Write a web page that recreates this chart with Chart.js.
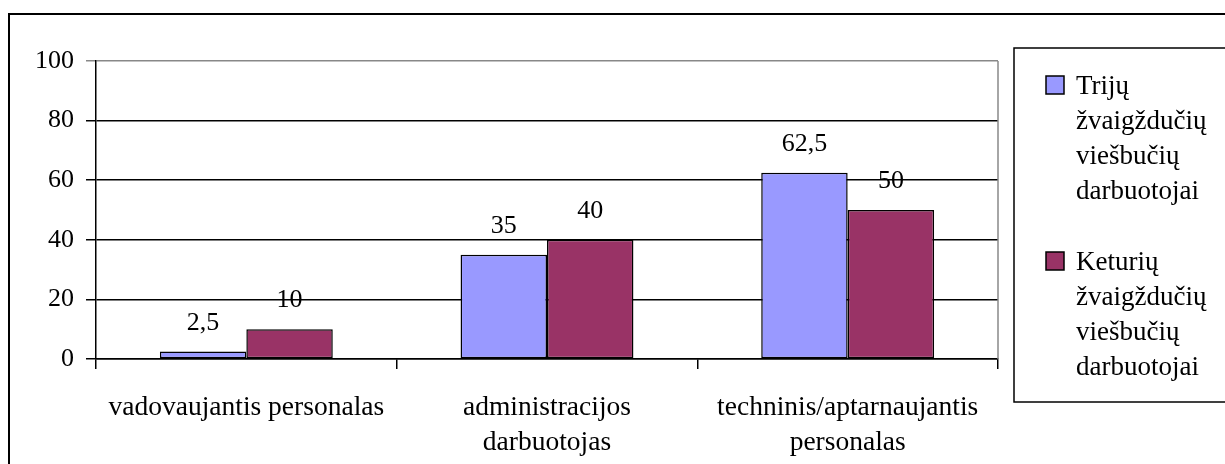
<!DOCTYPE html>
<html>
<head>
<meta charset="utf-8">
<script src="https://cdn.jsdelivr.net/npm/chart.js@4.4.1/dist/chart.umd.min.js"></script>
<style>
  html, body { margin: 0; padding: 0; background: #fff; }
  #wrap { position: relative; width: 1225px; height: 464px; }
</style>
</head>
<body>
<div id="wrap"><canvas id="staffChart" width="1225" height="464"></canvas></div>
<script>
const categories = [
  ['vadovaujantis personalas'],
  ['administracijos', 'darbuotojas'],
  ['techninis/aptarnaujantis', 'personalas']
];
const seriesNames = [
  'Trijų žvaigždučių viešbučių darbuotojai',
  'Keturių žvaigždučių viešbučių darbuotojai'
];
const threeStar = [2.5, 35, 62.5];
const fourStar = [10, 40, 50];
const yTicks = [0, 20, 40, 60, 80, 100];

const colors = ['#9999FF', '#993366'];
const FONT = '"Liberation Serif", "Times New Roman", serif';

// frame around the whole chart + grey right edge of the plot
const framePlugin = {
  id: 'frame',
  beforeDraw(chart) {
    const ctx = chart.ctx;
    ctx.save();
    ctx.strokeStyle = '#000';
    ctx.lineWidth = 2;
    ctx.strokeRect(9, 14, 1400, 600);
    ctx.restore();
  },
  afterDatasetsDraw(chart) {
    const { ctx, chartArea } = chart;
    ctx.save();
    ctx.strokeStyle = '#888';
    ctx.lineWidth = 1.5;
    ctx.beginPath();
    ctx.moveTo(chartArea.right, chartArea.top);
    ctx.lineTo(chartArea.right, chartArea.bottom);
    ctx.stroke();
    ctx.restore();
  }
};

// value labels above each bar, decimal comma
const valueLabels = {
  id: 'valueLabels',
  afterDatasetsDraw(chart) {
    const ctx = chart.ctx;
    ctx.save();
    ctx.font = '26px ' + FONT;
    ctx.fillStyle = '#000';
    ctx.textAlign = 'center';
    ctx.textBaseline = 'alphabetic';
    chart.data.datasets.forEach((ds, i) => {
      chart.getDatasetMeta(i).data.forEach((bar, j) => {
        const txt = String(ds.data[j]).replace('.', ',');
        ctx.fillText(txt, bar.x, bar.y - 22);
      });
    });
    ctx.restore();
  }
};

// boxed legend on the right, one word per line
const sideLegend = {
  id: 'sideLegend',
  afterDraw(chart) {
    const { ctx, chartArea } = chart;
    const left = chartArea.right + 16;
    ctx.save();
    ctx.strokeStyle = '#000';
    ctx.lineWidth = 1.5;
    ctx.strokeRect(left, 48, 400, 354);
    ctx.font = '27px ' + FONT;
    ctx.textAlign = 'left';
    ctx.textBaseline = 'alphabetic';
    chart.data.datasets.forEach((ds, i) => {
      const top = 76 + i * 176;
      ctx.fillStyle = ds.backgroundColor;
      ctx.fillRect(left + 32, top, 18, 18);
      ctx.lineWidth = 1.5;
      ctx.strokeRect(left + 32, top, 18, 18);
      ctx.fillStyle = '#000';
      ds.label.split(' ').forEach((word, k) => {
        ctx.fillText(word, left + 62, top + 18 + k * 35);
      });
    });
    ctx.restore();
  }
};

new Chart(document.getElementById('staffChart'), {
  type: 'bar',
  data: {
    labels: categories,
    datasets: [
      { label: seriesNames[0], data: threeStar, backgroundColor: colors[0] },
      { label: seriesNames[1], data: fourStar, backgroundColor: colors[1] }
    ].map(d => Object.assign(d, {
      borderColor: '#000', borderWidth: 1.5, borderSkipped: false,
      categoryPercentage: 0.575, barPercentage: 1
    }))
  },
  options: {
    responsive: false,
    animation: false,
    layout: { padding: { top: 61, right: 227, left: 0, bottom: 0 } },
    plugins: { legend: { display: false }, tooltip: { enabled: false } },
    scales: {
      x: {
        offset: true,
        grid: { offset: true, drawOnChartArea: false, color: '#000', tickLength: 10, lineWidth: 1.5 },
        border: { color: '#000', width: 1.5 },
        ticks: { color: '#000', font: { family: FONT, size: 27.5, lineHeight: 1.27 }, padding: 21, maxRotation: 0 },
        afterFit(scale) { scale.height = 105; }
      },
      y: {
        min: 0, max: 100,
        afterBuildTicks(scale) { scale.ticks = yTicks.map(v => ({ value: v })); },
        grid: {
          color: ctx => (ctx.tick && ctx.tick.value === 100 ? '#888' : '#000'),
          lineWidth: 1.5, tickLength: 10
        },
        border: { color: '#000', width: 1.5 },
        ticks: { color: '#000', font: { family: FONT, size: 26 }, padding: 12 },
        afterFit(scale) { scale.width = 96; }
      }
    }
  },
  plugins: [framePlugin, valueLabels, sideLegend]
});
</script>
</body>
</html>
